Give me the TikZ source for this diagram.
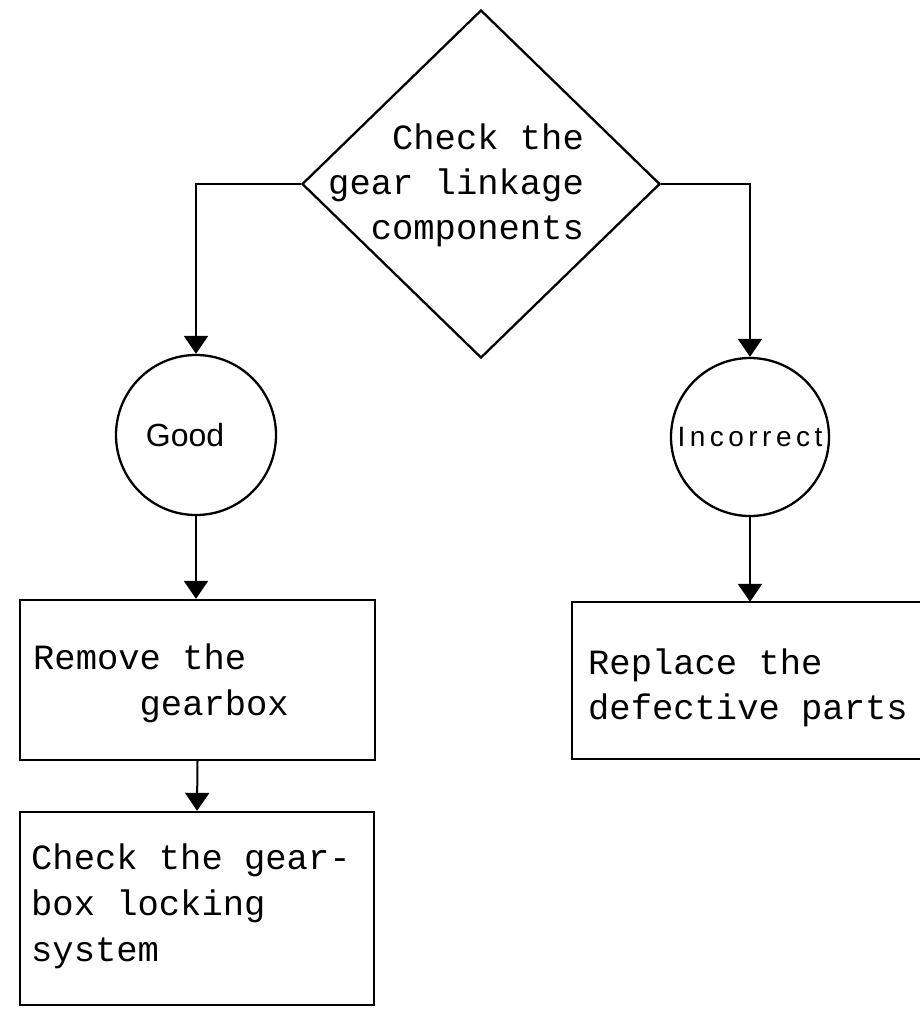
\documentclass[tikz,border=0pt]{standalone}
\usepackage{fontspec}
\usetikzlibrary{shapes.geometric,arrows.meta}
\newfontfamily\tmono{Liberation Mono}
\newfontfamily\tsans{Liberation Sans}
\newfontfamily\tsanswide[LetterSpace=16]{Liberation Sans}
\begin{document}
\begin{tikzpicture}[x=1pt,y=-1pt,
  line width=2.3pt,
  conn/.style={line width=2pt,-{Triangle[width=24pt,length=18pt]}},
  mtext/.style={font=\tmono\fontsize{35.5}{46}\selectfont,inner sep=0pt,align=left},
  boxshape/.style={draw,rectangle,inner sep=0pt},
  circ/.style={draw,circle,inner sep=0pt}]
\useasboundingbox[fill=white] (0,0) rectangle (920,1010);
% decision
\node[draw,diamond,minimum width=358pt,minimum height=348pt,inner sep=0pt] (d) at (481,184) {};
\node[mtext,align=right,anchor=base east,font=\tmono\fontsize{35.5}{45}\selectfont] (dt) at (585,239) {Check the\\gear linkage\\components};
% circles
\node[circ,minimum size=160pt,font=\tsans\fontsize{32}{38}\selectfont] (good) at (196,435) {\hspace*{-22pt}Good};
\node[circ,minimum size=158pt,font=\tsanswide\fontsize{28}{32}\selectfont] (inc) at (750,437) {Incorrect};
% boxes
\node[boxshape,minimum width=355pt,minimum height=160pt] (b1) at (197.5,680) {};
\node[mtext,anchor=base west] (b1t) at (32,715) {Remove the\\\hspace*{3em}gearbox};
\node[boxshape,minimum width=354pt,minimum height=193pt] (b2) at (197,908.5) {};
\node[mtext,anchor=base west] (b2t) at (30,961) {Check the gear-\\box locking\\system};
\node[rectangle,inner sep=0pt,minimum width=347pt,minimum height=155pt] (rep) at (746.5,680.5) {};
\draw (rep.north east) -- (rep.north west) -- (rep.south west) -- (rep.south east);
\node[mtext,anchor=base west,font=\tmono\fontsize{35.5}{45}\selectfont] (rept) at (587,719) {Replace the\\defective parts};
% connectors
\draw[conn] (d.west) -| (good.north);
\draw[conn] (d.east) -| (inc.north);
\draw[conn] (good.south) -- (good.south |- b1.north);
\draw[conn] (b1.south) -- (b2.north);
\draw[conn] (inc.south) -- (inc.south |- rep.north);
\end{tikzpicture}
\end{document}
